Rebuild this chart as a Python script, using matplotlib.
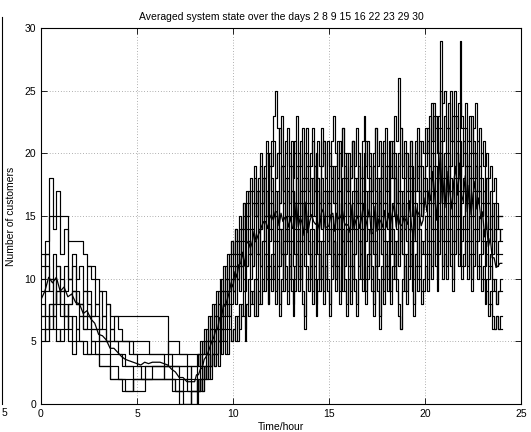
import matplotlib
matplotlib.use('Agg')
import matplotlib.pyplot as plt
import numpy as np
from matplotlib.lines import Line2D

plt.rcParams['font.family'] = ['Liberation Sans', 'DejaVu Sans']

days = [2, 8, 9, 15, 16, 22, 23, 29, 30]

# night records: 0h .. 7.8h every 0.2h (rows of 2 hours)
# busy records: 8h .. 24h every 0.1h (rows of 1 hour) + last sample at 24h
night_2 = [9, 12, 18, 15, 17, 12, 14, 10, 11, 9,
           8, 7, 9, 7, 8, 6, 7, 5, 6, 5,
           4, 4, 3, 3, 3, 3, 2, 2, 2, 3,
           3, 3, 2, 2, 2, 1, 1, 2, 2, 3]
busy_2 = [3, 3, 4, 3, 4, 5, 4, 5, 6, 5,
          6, 7, 6, 8, 7, 9, 8, 10, 9, 11,
          10, 12, 11, 13, 12, 14, 13, 15, 14, 12,
          14, 16, 15, 17, 14, 16, 18, 15, 17, 19,
          17, 15, 18, 20, 16, 19, 17, 14, 18, 16,
          19, 17, 15, 18, 20, 16, 14, 17, 19, 16,
          18, 15, 17, 20, 18, 16, 19, 21, 17, 15,
          17, 19, 16, 14, 18, 20, 17, 15, 19, 17,
          16, 18, 21, 17, 15, 19, 16, 18, 20, 17,
          15, 18, 16, 19, 17, 14, 18, 20, 16, 19,
          17, 15, 19, 21, 18, 16, 20, 17, 15, 18,
          20, 17, 19, 16, 18, 21, 17, 19, 16, 18,
          19, 21, 18, 20, 23, 19, 17, 20, 22, 18,
          20, 18, 22, 19, 21, 23, 20, 18, 21, 19,
          21, 19, 17, 20, 18, 21, 19, 17, 19, 18,
          17, 15, 18, 16, 14, 16, 13, 15, 14, 13,
          13]

night_8 = [8, 7, 6, 8, 9, 7, 8, 6, 7, 6,
           7, 6, 6, 5, 5, 4, 4, 4, 3, 3,
           2, 2, 1, 1, 2, 2, 2, 2, 2, 2,
           2, 2, 2, 2, 2, 1, 1, 0, 0, 1]
busy_8 = [1, 2, 1, 2, 3, 2, 3, 4, 3, 4,
          5, 4, 5, 6, 5, 7, 6, 8, 7, 8,
          9, 8, 10, 9, 11, 10, 9, 11, 12, 10,
          11, 13, 10, 12, 11, 13, 12, 10, 13, 11,
          12, 10, 13, 11, 14, 12, 9, 12, 14, 11,
          13, 11, 9, 12, 14, 10, 13, 11, 15, 12,
          10, 13, 11, 14, 12, 9, 11, 13, 10, 12,
          14, 11, 13, 10, 12, 15, 11, 9, 12, 14,
          11, 13, 10, 12, 14, 11, 13, 16, 12, 10,
          12, 14, 11, 9, 13, 11, 14, 12, 10, 13,
          11, 13, 15, 12, 10, 13, 11, 14, 12, 9,
          12, 14, 11, 13, 10, 12, 15, 11, 13, 12,
          14, 12, 15, 13, 16, 14, 12, 15, 17, 13,
          15, 13, 16, 14, 12, 15, 17, 14, 16, 13,
          14, 16, 13, 15, 12, 14, 16, 13, 15, 12,
          13, 11, 12, 10, 11, 9, 10, 8, 9, 10,
          10]

night_9 = [10, 11, 9, 10, 8, 9, 7, 8, 9, 8,
           7, 6, 7, 6, 6, 5, 5, 5, 5, 5,
           5, 5, 5, 4, 4, 3, 3, 3, 3, 3,
           3, 3, 3, 4, 3, 3, 2, 2, 1, 0]
busy_9 = [0, 1, 2, 1, 2, 3, 2, 4, 3, 5,
          4, 6, 5, 7, 6, 8, 9, 7, 9, 10,
          9, 11, 10, 12, 11, 13, 12, 14, 13, 12,
          14, 13, 15, 12, 14, 16, 13, 15, 17, 14,
          16, 13, 15, 17, 14, 12, 16, 18, 15, 13,
          15, 17, 14, 16, 13, 15, 18, 14, 16, 12,
          14, 16, 19, 15, 13, 16, 14, 17, 15, 13,
          16, 14, 12, 15, 17, 14, 16, 13, 15, 18,
          15, 13, 16, 14, 17, 15, 12, 14, 16, 13,
          15, 17, 14, 12, 16, 14, 18, 15, 13, 16,
          14, 16, 13, 15, 18, 14, 12, 15, 17, 14,
          16, 14, 17, 15, 13, 16, 14, 17, 15, 16,
          17, 15, 18, 16, 19, 17, 15, 18, 20, 16,
          18, 16, 19, 17, 15, 18, 20, 17, 19, 16,
          17, 19, 16, 18, 15, 17, 19, 16, 17, 15,
          16, 14, 15, 13, 14, 12, 13, 11, 12, 12,
          12]

night_15 = [12, 13, 15, 14, 15, 15, 15, 13, 13, 13,
            13, 12, 11, 11, 10, 9, 9, 8, 7, 7,
            7, 7, 7, 7, 7, 7, 7, 7, 7, 7,
            7, 7, 7, 4, 4, 4, 4, 4, 4, 4]
busy_15 = [4, 4, 4, 4, 4, 4, 5, 4, 6, 5,
           7, 6, 8, 7, 9, 8, 10, 9, 11, 12,
           11, 13, 12, 14, 13, 15, 14, 16, 15, 17,
           16, 18, 15, 17, 19, 16, 18, 20, 17, 19,
           21, 23, 25, 22, 20, 23, 19, 21, 18, 20,
           17, 19, 21, 18, 16, 19, 22, 18, 20, 17,
           19, 21, 17, 20, 18, 15, 19, 21, 18, 16,
           20, 18, 16, 19, 21, 17, 19, 22, 18, 20,
           17, 19, 21, 18, 16, 20, 18, 15, 19, 21,
           18, 20, 17, 19, 22, 18, 16, 19, 21, 17,
           19, 17, 21, 18, 20, 16, 19, 22, 18, 20,
           17, 19, 21, 18, 16, 20, 18, 21, 19, 17,
           20, 22, 19, 24, 21, 23, 20, 22, 25, 21,
           23, 20, 22, 25, 21, 19, 23, 21, 24, 22,
           20, 22, 19, 21, 23, 20, 18, 21, 19, 20,
           19, 17, 18, 16, 17, 15, 16, 14, 15, 15,
           15]

night_16 = [7, 6, 8, 7, 6, 5, 6, 7, 5, 6,
            5, 5, 4, 4, 4, 3, 3, 3, 2, 2,
            2, 1, 1, 1, 2, 2, 2, 2, 2, 2,
            2, 2, 3, 3, 2, 2, 1, 1, 1, 1]
busy_16 = [1, 0, 1, 2, 1, 2, 3, 2, 3, 4,
           3, 4, 5, 4, 6, 5, 4, 6, 7, 5,
           6, 7, 5, 8, 7, 9, 6, 8, 10, 8,
           9, 7, 10, 8, 11, 9, 12, 10, 8, 11,
           10, 12, 9, 11, 8, 10, 13, 11, 9, 12,
           10, 8, 11, 13, 10, 12, 9, 7, 11, 10,
           12, 9, 11, 8, 10, 13, 11, 9, 12, 10,
           8, 11, 13, 10, 12, 9, 11, 14, 10, 8,
           11, 9, 12, 10, 8, 11, 13, 10, 12, 9,
           11, 13, 10, 8, 12, 10, 7, 11, 9, 12,
           10, 12, 9, 11, 13, 10, 8, 6, 10, 12,
           9, 11, 13, 10, 8, 12, 10, 11, 9, 10,
           12, 10, 13, 11, 14, 12, 10, 13, 15, 11,
           13, 11, 14, 12, 10, 13, 15, 12, 14, 11,
           12, 14, 11, 13, 10, 12, 14, 11, 12, 10,
           11, 9, 10, 8, 9, 7, 6, 7, 6, 7,
           7]

night_22 = [7, 9, 10, 8, 11, 9, 11, 10, 12, 10,
            11, 9, 11, 10, 8, 9, 7, 8, 6, 7,
            6, 5, 5, 5, 5, 5, 5, 5, 4, 4,
            4, 4, 4, 5, 5, 5, 4, 4, 3, 3]
busy_22 = [3, 4, 3, 5, 4, 6, 5, 7, 6, 8,
           7, 9, 8, 10, 9, 11, 10, 12, 11, 13,
           12, 14, 13, 11, 14, 16, 13, 15, 17, 14,
           16, 15, 17, 14, 16, 18, 15, 17, 14, 16,
           18, 15, 17, 14, 16, 19, 16, 13, 17, 15,
           17, 14, 16, 19, 15, 17, 13, 16, 18, 15,
           16, 18, 15, 13, 17, 15, 18, 16, 14, 17,
           15, 17, 19, 16, 14, 17, 15, 18, 16, 13,
           16, 14, 17, 15, 18, 16, 14, 17, 19, 15,
           17, 15, 13, 16, 18, 15, 17, 14, 16, 18,
           15, 17, 14, 16, 19, 15, 17, 13, 16, 14,
           17, 15, 18, 16, 14, 17, 19, 16, 15, 17,
           18, 16, 19, 17, 20, 18, 16, 19, 21, 17,
           19, 17, 20, 18, 16, 19, 21, 18, 20, 17,
           18, 20, 17, 19, 16, 18, 20, 17, 18, 16,
           17, 15, 16, 14, 15, 13, 14, 12, 13, 14,
           14]

night_23 = [5, 6, 8, 7, 9, 8, 7, 8, 9, 8,
            8, 7, 7, 6, 6, 5, 5, 5, 4, 4,
            4, 3, 3, 3, 2, 2, 2, 3, 3, 3,
            3, 3, 3, 3, 3, 3, 3, 3, 2, 1]
busy_23 = [1, 2, 1, 3, 2, 3, 4, 3, 5, 4,
           5, 6, 5, 7, 6, 8, 7, 9, 8, 10,
           9, 11, 10, 12, 11, 9, 12, 11, 13, 12,
           11, 13, 12, 14, 11, 13, 15, 12, 14, 13,
           14, 12, 15, 13, 11, 14, 12, 15, 13, 10,
           13, 15, 12, 14, 11, 13, 16, 12, 14, 13,
           11, 14, 12, 15, 13, 10, 13, 15, 12, 14,
           12, 15, 13, 11, 14, 12, 16, 13, 11, 14,
           13, 11, 14, 12, 15, 13, 10, 14, 12, 15,
           14, 12, 15, 13, 11, 14, 16, 12, 14, 11,
           13, 15, 12, 14, 11, 13, 16, 14, 12, 15,
           13, 11, 14, 12, 15, 13, 11, 14, 12, 13,
           15, 13, 16, 14, 17, 15, 13, 16, 18, 14,
           16, 14, 17, 15, 13, 16, 18, 15, 17, 14,
           15, 17, 14, 16, 13, 15, 17, 14, 15, 13,
           14, 12, 13, 11, 12, 10, 9, 8, 9, 9,
           9]

night_29 = [11, 12, 10, 12, 11, 10, 9, 10, 9, 8,
            8, 9, 8, 7, 7, 6, 6, 5, 5, 5,
            5, 5, 5, 5, 4, 4, 4, 4, 4, 4,
            4, 4, 3, 3, 3, 3, 3, 3, 3, 2]
busy_29 = [2, 3, 4, 3, 5, 4, 6, 5, 7, 6,
           8, 7, 9, 8, 10, 9, 11, 10, 12, 13,
           12, 14, 13, 15, 14, 16, 15, 17, 16, 18,
           17, 19, 16, 18, 20, 17, 19, 21, 18, 20,
           19, 21, 18, 20, 22, 19, 17, 20, 22, 19,
           21, 18, 20, 23, 19, 21, 17, 20, 22, 19,
           20, 22, 19, 17, 21, 19, 22, 20, 18, 21,
           19, 21, 23, 20, 18, 21, 19, 22, 20, 17,
           20, 18, 21, 19, 22, 20, 18, 21, 23, 19,
           21, 19, 17, 20, 22, 19, 21, 18, 20, 22,
           19, 21, 18, 20, 23, 21, 26, 22, 19, 21,
           20, 18, 21, 19, 17, 20, 22, 19, 21, 20,
           22, 20, 23, 21, 24, 22, 20, 23, 29, 24,
           25, 22, 24, 21, 23, 25, 22, 24, 29, 23,
           22, 24, 21, 23, 20, 22, 24, 21, 22, 20,
           21, 19, 20, 18, 19, 17, 18, 16, 15, 15,
           15]

night_30 = [6, 5, 7, 6, 5, 6, 7, 5, 4, 5,
            5, 4, 4, 5, 4, 3, 3, 3, 2, 2,
            2, 2, 2, 2, 1, 1, 1, 2, 2, 2,
            2, 2, 2, 2, 1, 1, 0, 0, 0, 1]
busy_30 = [1, 2, 1, 2, 1, 3, 2, 3, 2, 4,
           3, 4, 3, 5, 4, 6, 5, 4, 6, 5,
           6, 5, 7, 6, 8, 7, 5, 8, 7, 9,
           8, 10, 7, 9, 8, 10, 9, 11, 8, 10,
           9, 11, 8, 10, 7, 9, 12, 10, 8, 11,
           9, 7, 10, 12, 9, 11, 8, 6, 10, 9,
           11, 8, 10, 7, 9, 12, 10, 8, 11, 9,
           7, 10, 12, 9, 11, 8, 10, 13, 9, 7,
           10, 8, 11, 9, 7, 10, 12, 9, 11, 8,
           10, 12, 9, 7, 11, 9, 6, 10, 8, 11,
           9, 11, 8, 10, 12, 9, 7, 6, 9, 11,
           8, 10, 12, 9, 7, 11, 9, 10, 8, 9,
           11, 9, 12, 10, 13, 11, 9, 12, 14, 10,
           12, 10, 13, 11, 9, 12, 14, 11, 13, 10,
           11, 13, 10, 12, 9, 11, 13, 10, 11, 9,
           10, 8, 9, 7, 8, 6, 6, 7, 6, 6,
           6]

nights = [night_2, night_8, night_9, night_15, night_16, night_22, night_23, night_29, night_30]
busys = [busy_2, busy_8, busy_9, busy_15, busy_16, busy_22, busy_23, busy_29, busy_30]

series = []
for night, busy in zip(nights, busys):
    tn = np.arange(len(night)) * 0.2
    tb = 8 + np.arange(len(busy)) * 0.1
    series.append((np.concatenate([tn, tb]), np.array(night + busy, dtype=float)))

# averaged state on the common sample times
n = min(len(s[1]) for s in series)
t_avg = series[0][0][:n]
avg = np.mean([s[1][:n] for s in series], axis=0)

fig = plt.figure(figsize=(5.31, 4.32), dpi=100)
ax = fig.add_axes([41 / 531, 28 / 432, 480 / 531, 376 / 432])

for t, rec in series:
    ax.step(t, rec, where='post', color='k', linewidth=0.85)
ax.plot(t_avg, avg, color='k', linewidth=0.9)

ax.set_xlim(0, 25)
ax.set_ylim(0, 30)
ax.set_xticks([0, 5, 10, 15, 20, 25])
ax.set_yticks([0, 5, 10, 15, 20, 25, 30])
ax.grid(True, linestyle=(0, (1, 3)), color='k', linewidth=0.5, alpha=0.6)
ax.tick_params(direction='in', top=True, right=True, labelsize=7.5, length=4, width=0.6)
for s in ax.spines.values():
    s.set_linewidth(0.8)

ax.set_title('Averaged system state over the days ' + ' '.join(str(d) for d in days),
             fontsize=7.5, pad=6)
ax.set_xlabel('Time/hour', fontsize=7.5, labelpad=2)
ax.set_ylabel('Number of customers', fontsize=7.5, labelpad=6)

# edge of the neighbouring subplot
fig.add_artist(Line2D([1.5 / 531, 1.5 / 531], [28 / 432, 415 / 432], color='k', linewidth=0.8))
fig.text(4 / 531, 1 - 413 / 432, '5', fontsize=7.5, va='center', ha='center')

fig.savefig('out.png', dpi=100)
